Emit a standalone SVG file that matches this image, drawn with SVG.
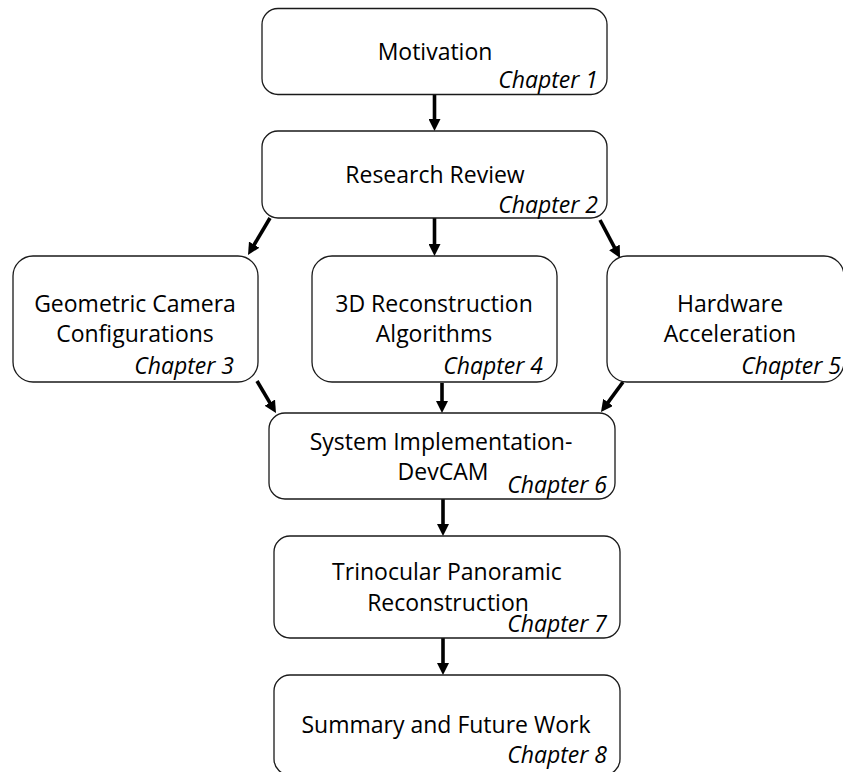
<svg xmlns="http://www.w3.org/2000/svg" width="843" height="772" viewBox="0 0 843 772">
  <style>
    .box { fill: #ffffff; stroke: #1a1a1a; stroke-width: 1.3; }
    .title { font-family: "Open Sans", "Liberation Sans", sans-serif; font-size: 23px; fill: #000; text-anchor: middle; }
    .chap { font-family: "Open Sans", "Liberation Sans", sans-serif; font-size: 23px; font-style: italic; fill: #000; text-anchor: end; }
    .arrow { stroke: #000; stroke-width: 3.6; fill: none; marker-end: url(#head); }
  </style>
  <defs>
    <marker id="head" viewBox="0 0 12 12" markerWidth="12" markerHeight="12" markerUnits="userSpaceOnUse" refX="4" refY="6" orient="auto">
      <path d="M0,0 L12,6 L0,12 z" fill="#000"/>
    </marker>
  </defs>
  <rect width="843" height="772" fill="#ffffff"/>

  <g id="connectors">
    <line class="arrow" x1="434.5" y1="95" x2="434.5" y2="123"/>
    <line class="arrow" x1="270" y1="218" x2="252.1" y2="248.1"/>
    <line class="arrow" x1="434.5" y1="218" x2="434.5" y2="248"/>
    <line class="arrow" x1="600" y1="220" x2="616.3" y2="250.9"/>
    <line class="arrow" x1="257" y1="381" x2="271.9" y2="406.1"/>
    <line class="arrow" x1="442" y1="383" x2="442" y2="405"/>
    <line class="arrow" x1="623" y1="382" x2="605.7" y2="405.6"/>
    <line class="arrow" x1="443" y1="499" x2="443" y2="528"/>
    <line class="arrow" x1="443" y1="638" x2="443" y2="667"/>
  </g>

  <g id="motivation">
    <rect class="box" x="262" y="8.5" width="345" height="86" rx="16"/>
    <text class="title" x="435" y="60">Motivation</text>
    <text class="chap" x="598" y="88">Chapter 1</text>
  </g>

  <g id="research-review">
    <rect class="box" x="262" y="131" width="345" height="87" rx="16"/>
    <text class="title" x="435" y="183">Research Review</text>
    <text class="chap" x="598" y="213">Chapter 2</text>
  </g>

  <g id="geometric-camera">
    <rect class="box" x="13" y="256" width="245" height="126" rx="20"/>
    <text class="title" x="135" y="312">Geometric Camera</text>
    <text class="title" x="135" y="342">Configurations</text>
    <text class="chap" x="234" y="374">Chapter 3</text>
  </g>

  <g id="reconstruction-algorithms">
    <rect class="box" x="312" y="256" width="245" height="126" rx="20"/>
    <text class="title" x="434" y="312">3D Reconstruction</text>
    <text class="title" x="434" y="342">Algorithms</text>
    <text class="chap" x="543" y="374">Chapter 4</text>
  </g>

  <g id="hardware-acceleration">
    <rect class="box" x="607" y="256" width="237" height="126" rx="20"/>
    <text class="title" x="730" y="312">Hardware</text>
    <text class="title" x="730" y="342">Acceleration</text>
    <text class="chap" x="841" y="374">Chapter 5</text>
  </g>

  <g id="system-implementation">
    <rect class="box" x="269" y="413" width="346" height="86" rx="16"/>
    <text class="title" x="441" y="450">System Implementation-</text>
    <text class="title" x="443" y="480">DevCAM</text>
    <text class="chap" x="607" y="493">Chapter 6</text>
  </g>

  <g id="trinocular-panoramic">
    <rect class="box" x="274" y="536" width="346" height="102" rx="16"/>
    <text class="title" x="447" y="580">Trinocular Panoramic</text>
    <text class="title" x="448" y="611">Reconstruction</text>
    <text class="chap" x="607" y="632">Chapter 7</text>
  </g>

  <g id="summary-future-work">
    <rect class="box" x="274" y="675" width="346" height="100" rx="16"/>
    <text class="title" x="446" y="733">Summary and Future Work</text>
    <text class="chap" x="607" y="763">Chapter 8</text>
  </g>
</svg>
